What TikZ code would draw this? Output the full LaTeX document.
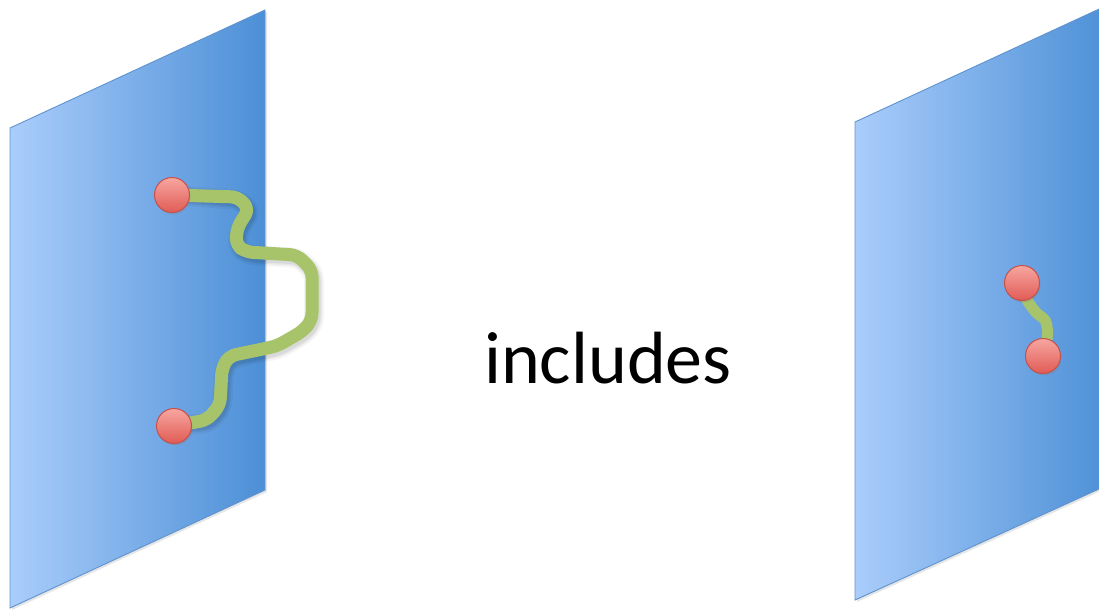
\documentclass[tikz,border=0pt]{standalone}
\usepackage{fontspec}
\setsansfont{Carlito}
\usetikzlibrary{shadows}
\definecolor{planeL}{HTML}{AACDFB}
\definecolor{planeR}{HTML}{4C8FD6}
\definecolor{planeEdge}{HTML}{5E93CF}
\definecolor{wire}{HTML}{A8C46A}
\definecolor{dotTop}{HTML}{F7A6A0}
\definecolor{dotBot}{HTML}{E05C55}
\definecolor{dotEdge}{HTML}{C8504A}
\pgfdeclarelayer{planes}
\pgfdeclarelayer{wires}
\pgfsetlayers{planes,wires,main}
\tikzset{
  plane/.style={left color=planeL, right color=planeR, draw=planeEdge, line width=0.9pt,
    drop shadow={opacity=0.2, shadow xshift=2pt, shadow yshift=-2pt}},
  dot/.style={circle, minimum size=35pt, inner sep=0pt, top color=dotTop, bottom color=dotBot,
    draw=dotEdge, line width=1pt,
    drop shadow={opacity=0.3, shadow xshift=1pt, shadow yshift=-2pt}},
  wirepath/.style={draw=wire, line width=#1, line cap=round, line join=round, rounded corners=7pt},
  wireshadow/.style={draw=black, line width=#1, line cap=round, line join=round,
    rounded corners=7pt, xshift=2pt, yshift=-3pt}
}
\tikzset{label/.style={font=\sffamily\fontsize{74}{80}\selectfont, text=black}}
\newcommand\longwire{(a.center) -- (238,197) -- (249,209) -- (237,228) -- (236,245)
    -- (246,252) -- (297,255) -- (312,270) -- (312,320) -- (303,331) -- (277,346)
    -- (229,356) -- (222,368) -- (220,405) -- (207,420) -- (b.center)}
\begin{document}
\begin{tikzpicture}[x=1pt, y=-1pt]
\useasboundingbox (0,0) rectangle (1099,610);
\clip (0,0) rectangle (1099,610);

% the two planes
\begin{pgfonlayer}{planes}
  \path[plane] (10,128) -- (265,10) -- (265,490) -- (10,608) -- cycle;
  \path[plane] (855,122) -- (1110,4) -- (1110,484) -- (855,600) -- cycle;
\end{pgfonlayer}

% end points
\node[dot] (a) at (172,195) {};
\node[dot] (b) at (174,426) {};
\node[dot] (c) at (1022,283) {};
\node[dot] (d) at (1043,356) {};

% long wandering path leaving the left plane, with a soft shadow
\begin{pgfonlayer}{wires}
  \draw[wireshadow=20pt, opacity=0.04] \longwire;
  \draw[wireshadow=16pt, opacity=0.06] \longwire;
  \draw[wireshadow=13pt, opacity=0.06] \longwire;
  \draw[wirepath=13pt] \longwire;
  % short path on the right plane
  \draw[wirepath=11pt, rounded corners=4pt] (c.center) -- (1026,299) -- (1036,313)
    -- (1046,320) -- (1048,334) -- (d.center);
\end{pgfonlayer}

\node[label] (t) at (608,358) {includes};
\end{tikzpicture}
\end{document}
